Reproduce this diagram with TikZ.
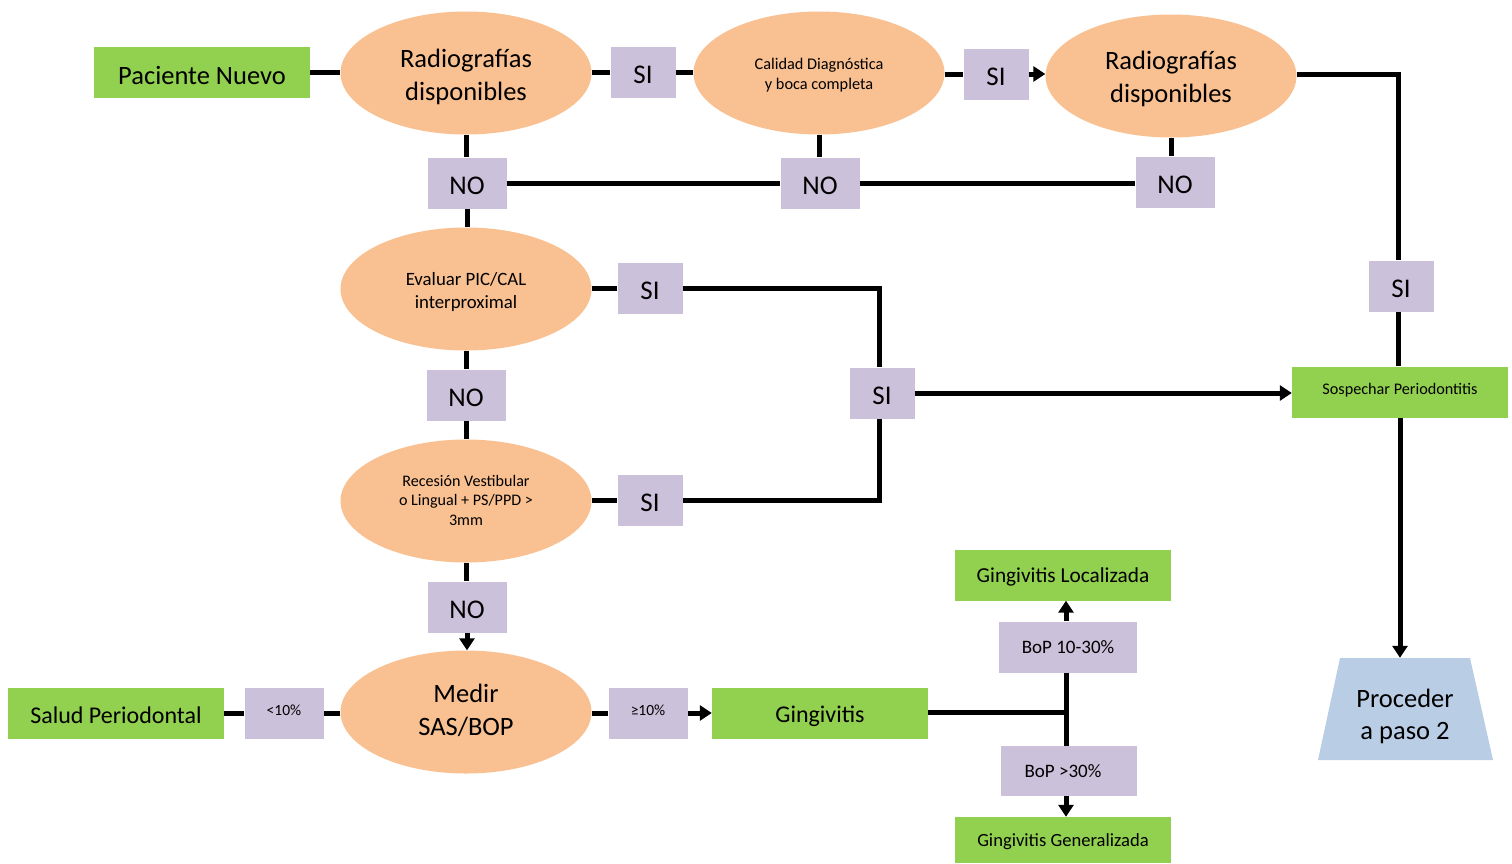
\documentclass[tikz,border=0pt]{standalone}
\usepackage{fontspec}
\setmainfont{Carlito}
\usetikzlibrary{arrows.meta,shapes.geometric}
\definecolor{gr}{HTML}{92D050}
\definecolor{orng}{HTML}{F9C091}
\definecolor{purp}{HTML}{CCC1DA}
\definecolor{blu}{HTML}{B9CDE5}
\newcommand\dn[2][3pt]{\raisebox{-#1}[\height][\depth]{#2}}
\newcommand\tlines[2][3pt]{\raisebox{-#1}[\height][\depth]{\begin{tabular}{@{}c@{}}#2\end{tabular}}}
\tikzset{
  gbox/.style={fill=gr,minimum width=216pt,minimum height=51pt,inner sep=0pt},
  ell/.style={ellipse,fill=orng,minimum width=251pt,minimum height=123pt,inner sep=0pt,align=center},
  lab/.style={fill=purp,minimum width=65pt,minimum height=51pt,inner sep=0pt,font=\fontsize{27}{29}\selectfont},
  labw/.style={fill=purp,minimum width=79pt,minimum height=51pt,inner sep=0pt,font=\fontsize{27}{29}\selectfont},
  conn/.style={line width=5pt},
  arr/.style={line width=5pt,-{Triangle[length=12pt,width=15pt]}},
}
\begin{document}
\begin{tikzpicture}[x=1pt,y=-1pt]
\useasboundingbox (0,0) rectangle (1512,863);
% row 1
\node[gbox,font=\fontsize{26.5}{28}\selectfont] (pn) at (202,72) {\dn{Paciente Nuevo}};
\node[ell,font=\fontsize{26.5}{33}\selectfont] (e1) at (466,73) {\tlines[4pt]{Radiografías\\disponibles}};
\node[lab] (si1) at (643,72) {\dn{SI}};
\node[ell,font=\fontsize{16.3}{20}\selectfont] (e2) at (819,73) {\tlines[2pt]{Calidad Diagnóstica\\y boca completa}};
\node[lab] (si2) at (996,74) {\dn{SI}};
\node[ell,font=\fontsize{26.5}{33}\selectfont] (e3) at (1171,76) {\tlines[3pt]{Radiografías\\disponibles}};
% NO row
\node[labw] (no1) at (467,183) {\dn{NO}};
\node[labw] (no2) at (820,183) {\dn{NO}};
\node[labw] (no3) at (1175,182) {\dn{NO}};
% left column
\node[ell,font=\fontsize{18.8}{23}\selectfont] (e4) at (466,289) {\tlines[3pt]{Evaluar PIC/CAL\\interproximal}};
\node[lab] (si3) at (650,288) {\dn{SI}};
\node[labw] (no4) at (466,395) {\dn{NO}};
\node[lab] (simid) at (882,393) {\dn{SI}};
\node[ell,font=\fontsize{16.1}{19.5}\selectfont] (e5) at (466,501) {\tlines[1pt]{Recesión Vestibular\\o Lingual + PS/PPD >\\3mm}};
\node[lab] (si5) at (650,500) {\dn{SI}};
\node[labw] (no6) at (467,607) {\dn{NO}};
\node[ell,font=\fontsize{26.5}{33}\selectfont] (e6) at (466,712) {\tlines[0pt]{Medir\\SAS/BOP}};
\node[labw,font=\fontsize{15.5}{17}\selectfont] (lt) at (284,713) {\dn[-3pt]{<10\%}};
\node[gbox,font=\fontsize{24}{26}\selectfont] (salud) at (116,713) {\dn[2pt]{Salud Periodontal}};
\node[labw,font=\fontsize{15.5}{17}\selectfont] (ge) at (648,713) {\dn[-3pt]{≥10\%}};
\node[gbox,font=\fontsize{24}{26}\selectfont] (ging) at (820,713) {\dn{Gingivitis}};
% right side
\node[lab] (si4) at (1401,286) {\dn{SI}};
\node[gbox,font=\fontsize{16.2}{18}\selectfont] (sosp) at (1400,392) {\dn[-2pt]{Sospechar Periodontitis}};
\fill[blu] (1340,658) -- (1470,658) -- (1493,760) -- (1318,760) -- cycle;
\node[minimum width=130pt,minimum height=102pt,inner sep=0pt,align=center,font=\fontsize{26.5}{32}\selectfont] (proc) at (1405,709) {\tlines[8pt]{Proceder\\a paso 2}};
% gingivitis branch
\node[fill=purp,minimum width=138pt,minimum height=51pt,inner sep=0pt,font=\fontsize{19}{21}\selectfont] (bop1) at (1068,647) {BoP 10-30\%};
\node[fill=purp,minimum width=136pt,minimum height=50pt,inner sep=0pt,font=\fontsize{19}{21}\selectfont] (bop2) at (1069,771) {\hspace*{-12pt}BoP >30\%};
\node[gbox,font=\fontsize{21.3}{23}\selectfont] (gl) at (1063,575) {\dn[2pt]{Gingivitis Localizada}};
\node[gbox,minimum height=46pt,font=\fontsize{18.6}{20}\selectfont] (gg) at (1063,840) {\dn[2pt]{Gingivitis Generalizada}};
\coordinate (j) at (1066,712);
\coordinate (rx) at (1398,74);
\coordinate (mx) at (879,393);
% connectors
\draw[conn] (pn.east) -- (pn.east -| e1.west);
\draw[conn] (e1.east |- si1) -- (si1.west);
\draw[conn] (si1.east) -- (si1.east -| e2.west);
\draw[conn] (e2.east |- si2) -- (si2.west);
\draw[arr] (si2.east) -- (si2.east -| e3.west);
\draw[conn] (e3.east |- rx) -- (rx) -- (rx |- si4.north);
\draw[conn] (rx |- si4.south) -- (rx |- sosp.north);
\draw[arr] (sosp.south) -- (sosp.south |- proc.north);
\draw[conn] (e1.south) -- (e1.south |- no1.north);
\draw[conn] (e2.south) -- (e2.south |- no2.north);
\draw[conn] (e3.south) -- (e3.south |- no3.north);
\draw[conn] (no1.east) -- (no2.west);
\draw[conn] (no2.east) -- (no3.west |- no2.east);
\draw[conn] (no1.south) -- (no1.south |- e4.north);
\draw[conn] (e4.south) -- (e4.south |- no4.north);
\draw[conn] (no4.south) -- (no4.south |- e5.north);
\draw[conn] (e5.south) -- (e5.south |- no6.north);
\draw[arr] (no6.south) -- (no6.south |- e6.north);
\draw[conn] (e4.east |- si3) -- (si3.west);
\draw[conn] (si3.east) -| (mx |- simid.north);
\draw[conn] (e5.east |- si5) -- (si5.west);
\draw[conn] (si5.east) -| (mx |- simid.south);
\draw[arr] (simid.east) -- (simid.east -| sosp.west);
\draw[conn] (e6.west |- lt) -- (lt.east);
\draw[conn] (lt.west) -- (salud.east);
\draw[conn] (e6.east |- ge) -- (ge.west);
\draw[arr] (ge.east) -- (ging.west);
\draw[conn] (ging.east |- j) -- (j);
\draw[conn] (bop1.south -| j) -- (bop2.north -| j);
\draw[arr] (bop1.north -| j) -- (gl.south -| j);
\draw[arr] (bop2.south -| j) -- (gg.north -| j);
\end{tikzpicture}
\end{document}
